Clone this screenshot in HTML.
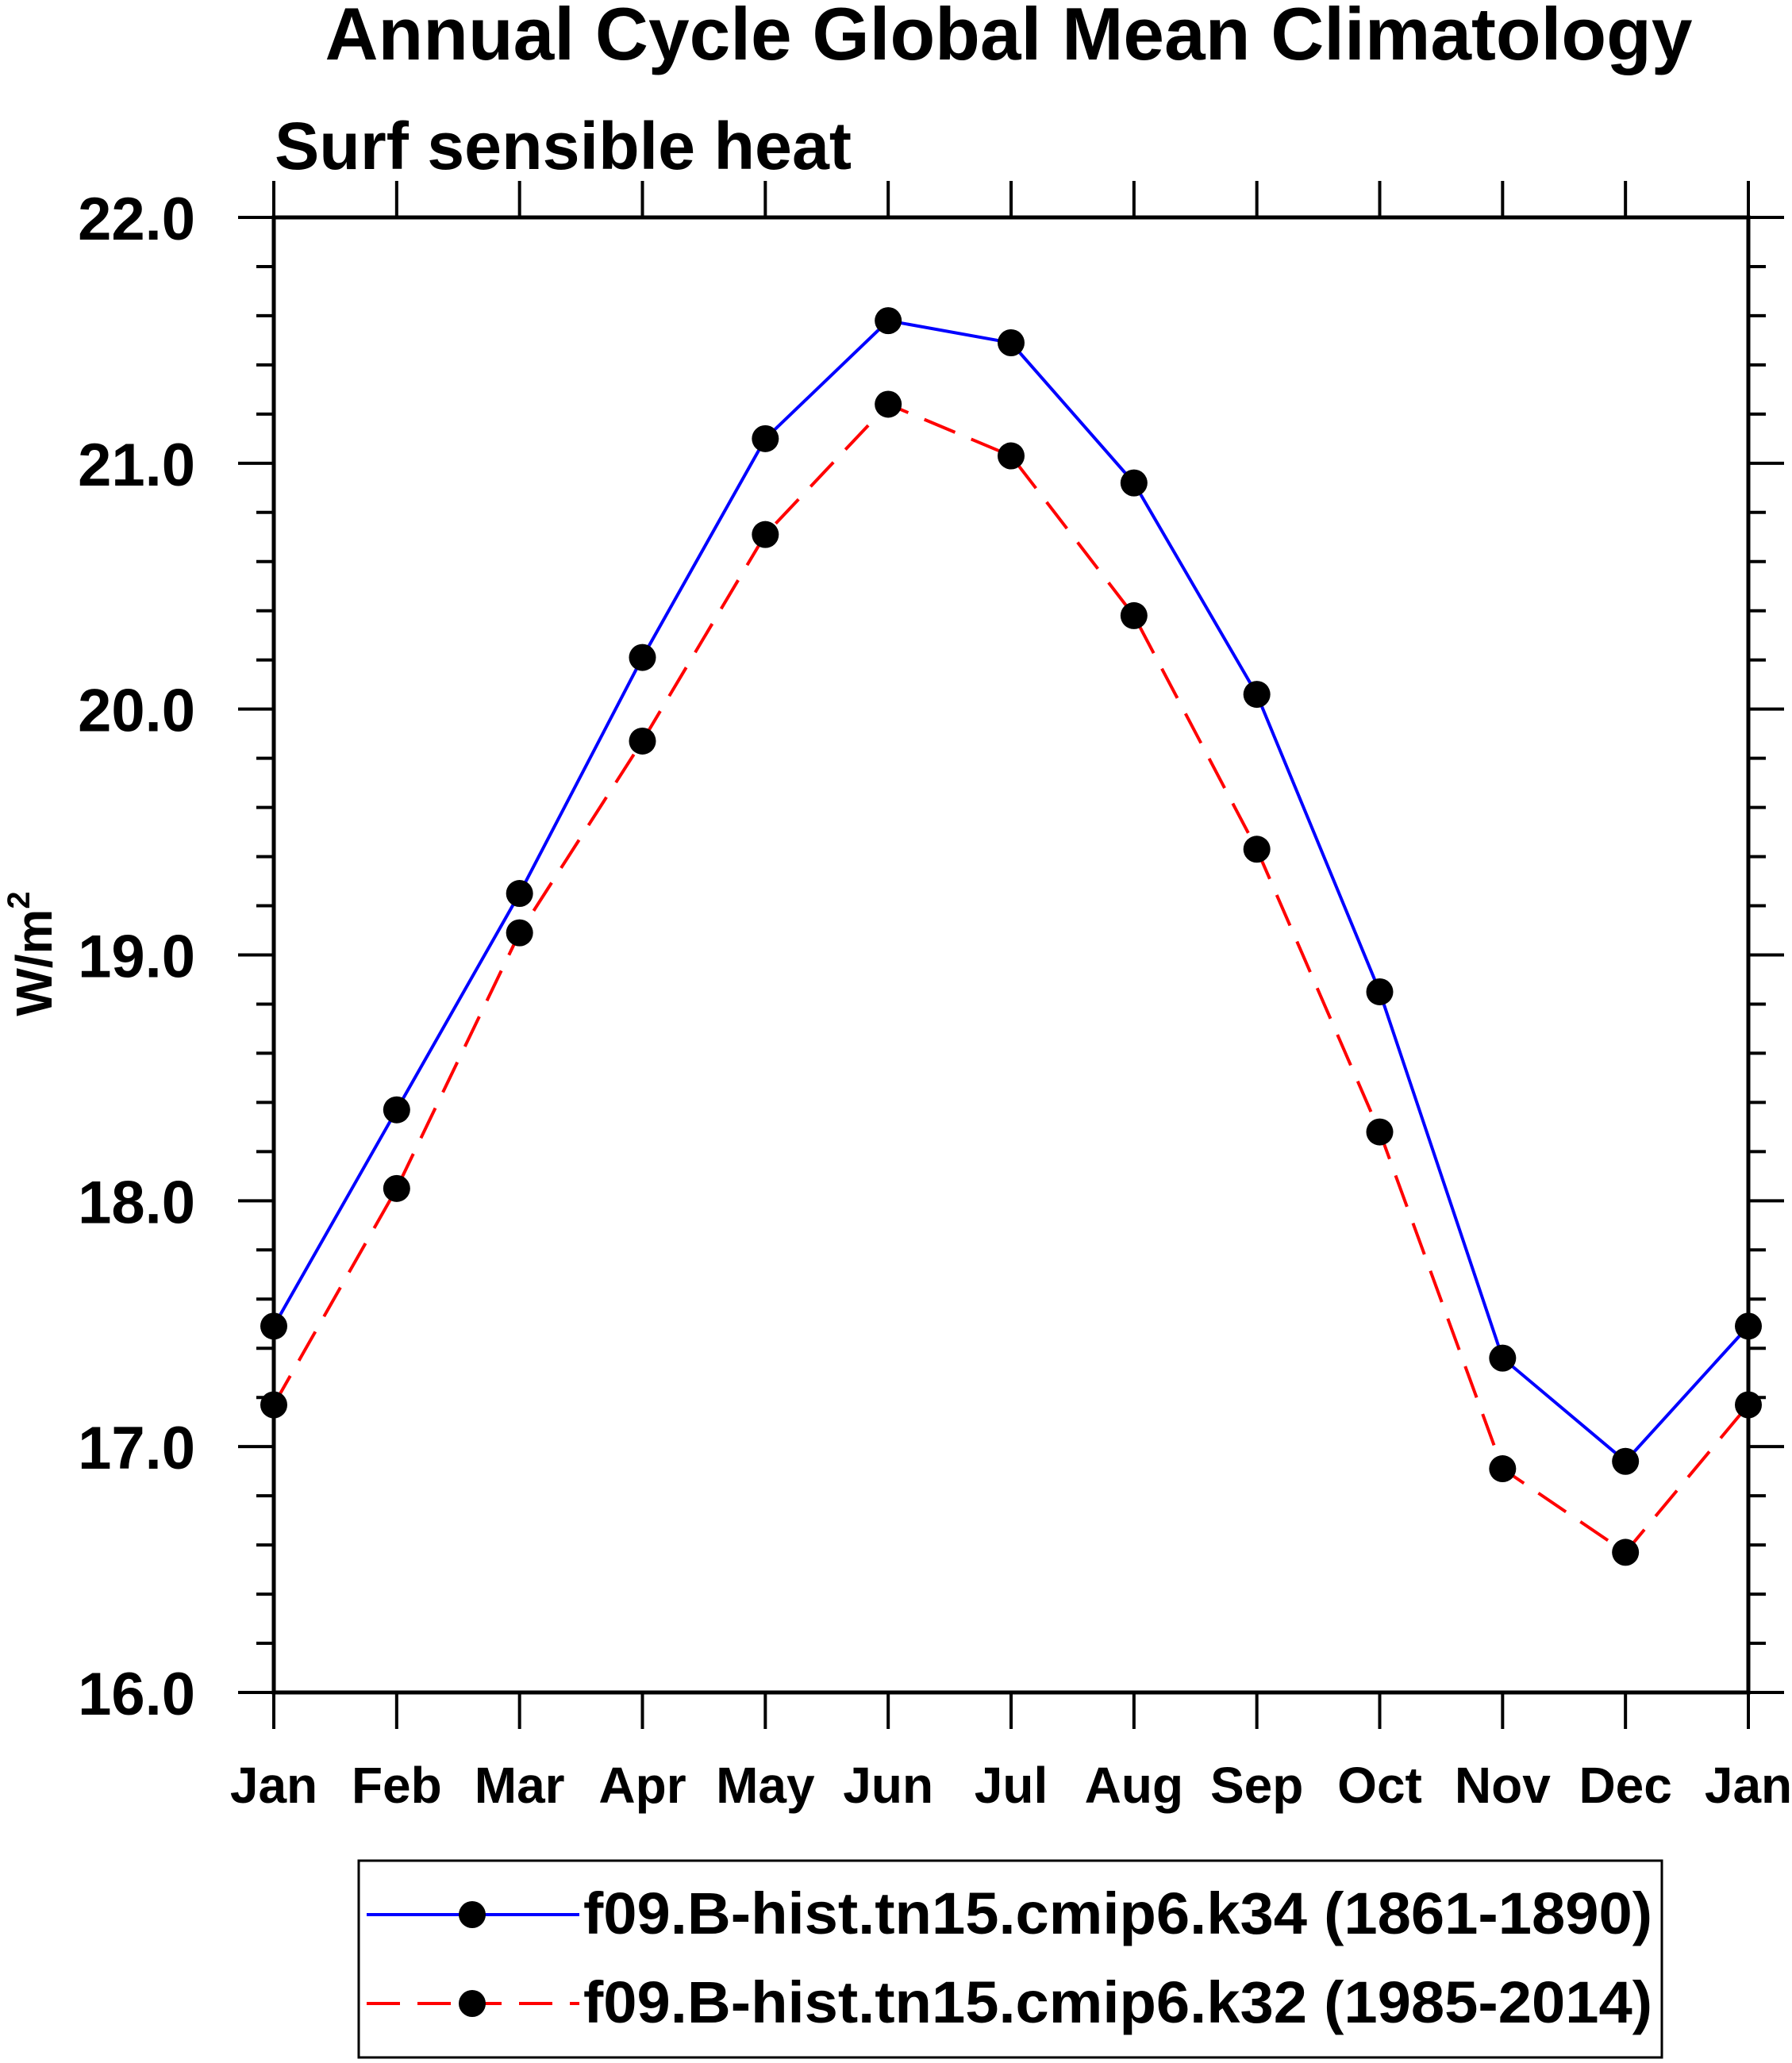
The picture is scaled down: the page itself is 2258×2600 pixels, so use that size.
<!DOCTYPE html>
<html><head><meta charset="utf-8"><style>
html,body{margin:0;padding:0;background:#fff}
svg{display:block}
text{font-family:"Liberation Sans",sans-serif;font-weight:bold;fill:#000}
</style></head><body>
<svg id="chart" width="2258" height="2600" viewBox="0 0 2258 2600" xmlns="http://www.w3.org/2000/svg">
<text x="1271" y="75" font-size="94" text-anchor="middle" textLength="1723" lengthAdjust="spacingAndGlyphs">Annual Cycle Global Mean Climatology</text>
<text x="346" y="213" font-size="84" textLength="727" lengthAdjust="spacingAndGlyphs">Surf sensible heat</text>
<text transform="translate(65,1202) rotate(-90)" font-size="64" text-anchor="middle">W/m<tspan font-size="40" dy="-28">2</tspan></text>
<g id="axes"></g>
<g id="series"></g>
<g>
<rect x="452" y="2345" width="1642" height="248" fill="none" stroke="#000" stroke-width="3"/>
<g>
<line x1="462" y1="2413" x2="730" y2="2413" stroke="#0000ff" stroke-width="4"/>
<circle cx="595" cy="2413" r="17" fill="#000"/>
<text x="735" y="2437" font-size="74" textLength="1347" lengthAdjust="spacingAndGlyphs">f09.B-hist.tn15.cmip6.k34 (1861-1890)</text>
</g>
<g>
<line x1="462" y1="2525" x2="730" y2="2525" stroke="#ff0000" stroke-width="4" stroke-dasharray="42,22"/>
<circle cx="595" cy="2525" r="17" fill="#000"/>
<text x="735" y="2549" font-size="74" textLength="1347" lengthAdjust="spacingAndGlyphs">f09.B-hist.tn15.cmip6.k32 (1985-2014)</text>
</g>
</g>
</svg>
<script>
const months = ["Jan","Feb","Mar","Apr","May","Jun","Jul","Aug","Sep","Oct","Nov","Dec","Jan"];
const seriesK34 = [17.49,18.37,19.25,20.21,21.10,21.58,21.49,20.92,20.06,18.85,17.36,16.94,17.49];
const seriesK32 = [17.17,18.05,19.09,19.87,20.71,21.24,21.03,20.38,19.43,18.28,16.91,16.57,17.17];
const yTicks = [16,17,18,19,20,21,22];
const yTickLabels = ["16.0","17.0","18.0","19.0","20.0","21.0","22.0"];

const L=345,R=2203,T=274,B=2133,YMIN=16,YMAX=22;
function xs(i){return L+(R-L)*i/(months.length-1);}
function ys(v){return B-(B-T)*(v-YMIN)/(YMAX-YMIN);}
const NS="http://www.w3.org/2000/svg";
function mk(tag,attrs,parent){const e=document.createElementNS(NS,tag);for(const k in attrs)e.setAttribute(k,attrs[k]);parent.appendChild(e);return e;}
const ax=document.getElementById('axes');
const frame=mk('rect',{x:L,y:T,width:R-L,height:B-T,fill:'none',stroke:'#000','stroke-width':5},ax);


for(let v=YMIN;v<=YMAX+1e-9;v+=0.2){
  const y=ys(v);const major=Math.abs(v-Math.round(v))<1e-6;
  const len=major?45:22;
  const t1=mk('line',{x1:L-len,y1:y,x2:L,y2:y,stroke:'#000','stroke-width':4},ax);
  
  
  const t2=mk('line',{x1:R,y1:y,x2:R+len,y2:y,stroke:'#000','stroke-width':4},ax);
  
  
}
yTicks.forEach((v,i)=>{
  const t=mk('text',{x:246,y:ys(v)+28,'font-size':76,'text-anchor':'end'},ax);
  t.textContent=yTickLabels[i];
  
  
});
months.forEach((m,i)=>{
  const x=xs(i);
  const a=mk('line',{x1:x,y1:B,x2:x,y2:B+46,stroke:'#000','stroke-width':4},ax);
  
  
  const b=mk('line',{x1:x,y1:T-46,x2:x,y2:T,stroke:'#000','stroke-width':4},ax);
  
  
  const t=mk('text',{x:x,y:2272,'font-size':64,'text-anchor':'middle'},ax);
  t.textContent=m;
  
  
});
const sg=document.getElementById('series');
function drawSeries(vals,color,dash,name){
  const g=mk('g',{},sg);
  
  
  const pts=vals.map((v,i)=>xs(i)+','+ys(v)).join(' ');
  const attrs={points:pts,fill:'none',stroke:color,'stroke-width':4};
  if(dash)attrs['stroke-dasharray']=dash;
  const pl=mk('polyline',attrs,g);
  
  
  vals.forEach((v,i)=>{
    const c=mk('circle',{cx:xs(i),cy:ys(v),r:17,fill:'#000'},g);
    
    
  });
}
drawSeries(seriesK34,'#0000ff',null,'series-k34');
drawSeries(seriesK32,'#ff0000','42,22','series-k32');
</script>
</body></html>
